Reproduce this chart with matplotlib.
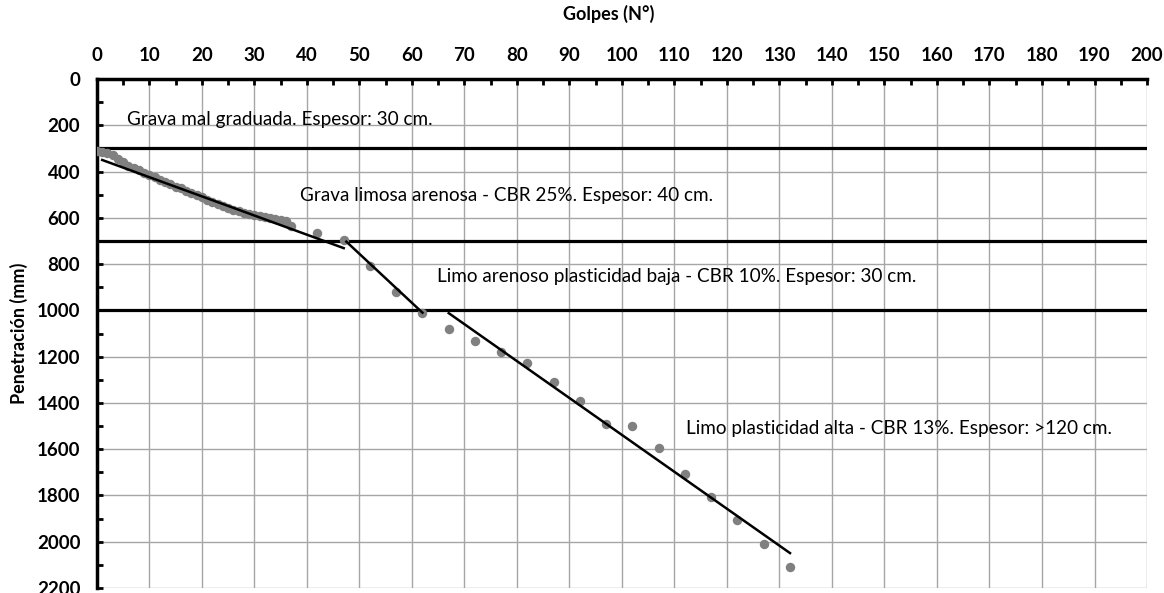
import matplotlib
matplotlib.use("Agg")
import matplotlib.pyplot as plt
from matplotlib.ticker import MultipleLocator

plt.rcParams['font.family'] = ['Lato', 'DejaVu Sans']

# DCP data: blows vs penetration (mm)
golpes = list(range(0, 38)) + [42, 47, 52, 57, 62, 67, 72, 77, 82, 87, 92, 97,
                               102, 107, 112, 117, 122, 127, 132]
penetracion = [310, 315, 320, 330, 345, 360, 375, 385, 395, 405,
               415, 425, 435, 445, 455, 465, 473, 482, 492, 502,
               512, 522, 532, 542, 550, 558, 566, 572, 578, 584,
               589, 594, 598, 602, 606, 610, 615, 635,
               665, 697, 810, 921, 1010, 1082, 1132, 1178, 1228, 1308,
               1390, 1490, 1498, 1597, 1708, 1805, 1906, 2009, 2108]

# trend lines per layer (start/end)
tend1_x = [1, 47]
tend1_y = [350, 731]
tend2_x = [47.5, 62]
tend2_y = [703, 1010]
tend3_x = [67, 132]
tend3_y = [1012, 2049]

# layer boundaries
limites = [300, 700, 1000]

capas = ["Grava mal graduada. Espesor: 30 cm.",
         "Grava limosa arenosa - CBR 25%. Espesor: 40 cm.",
         "Limo arenoso plasticidad baja - CBR 10%. Espesor: 30 cm.",
         "Limo plasticidad alta - CBR 13%. Espesor: >120 cm."]
capas_pos = [(5.7, 173), (38.7, 505), (64.8, 855), (112.2, 1512)]

fig = plt.figure(figsize=(11.64, 5.93), dpi=100)
ax = fig.add_axes([0.0833, 0.0084, 0.9021, 0.8584])

ax.grid(True, color='#a6a6a6', linewidth=1.0, zorder=0)
ax.set_axisbelow(True)

for lim in limites:
    ax.axhline(lim, color='black', linewidth=2.3, zorder=2)

ax.plot(golpes, penetracion, 'o', color='#808080', markersize=6.8,
        markeredgewidth=0, zorder=3)
ax.plot(tend1_x, tend1_y, color='black', linewidth=1.8, zorder=4)
ax.plot(tend2_x, tend2_y, color='black', linewidth=1.8, zorder=4)
ax.plot(tend3_x, tend3_y, color='black', linewidth=1.8, zorder=4)

for txt, (tx, ty) in zip(capas, capas_pos):
    ax.text(tx, ty, txt, fontsize=13.6, va='center', ha='left', zorder=5)

ax.set_xlim(0, 200)
ax.set_ylim(2200, 0)
ax.xaxis.set_major_locator(MultipleLocator(10))
ax.xaxis.set_minor_locator(MultipleLocator(5))
ax.yaxis.set_major_locator(MultipleLocator(200))
ax.yaxis.set_minor_locator(MultipleLocator(100))

ax.xaxis.tick_top()
ax.xaxis.set_label_position('top')
ax.tick_params(axis='x', which='both', direction='in', length=4, width=2,
               labelsize=13.5, pad=11)
ax.tick_params(axis='y', which='both', direction='in', length=4, width=2,
               labelsize=13.5, pad=12)
for lab in ax.get_xticklabels() + ax.get_yticklabels():
    lab.set_fontweight('bold')

ax.spines['bottom'].set_visible(False)
ax.spines['right'].set_visible(False)
ax.spines['top'].set_linewidth(2.5)
ax.spines['left'].set_linewidth(2.5)

ax.set_xlabel("Golpes (N°)", fontsize=13, fontweight='bold', labelpad=15)
ax.xaxis.set_label_coords(0.487, 1.115)
ax.set_ylabel("Penetración (mm)", fontsize=13, fontweight='bold', labelpad=6)

fig.savefig("out.png", dpi=100)
